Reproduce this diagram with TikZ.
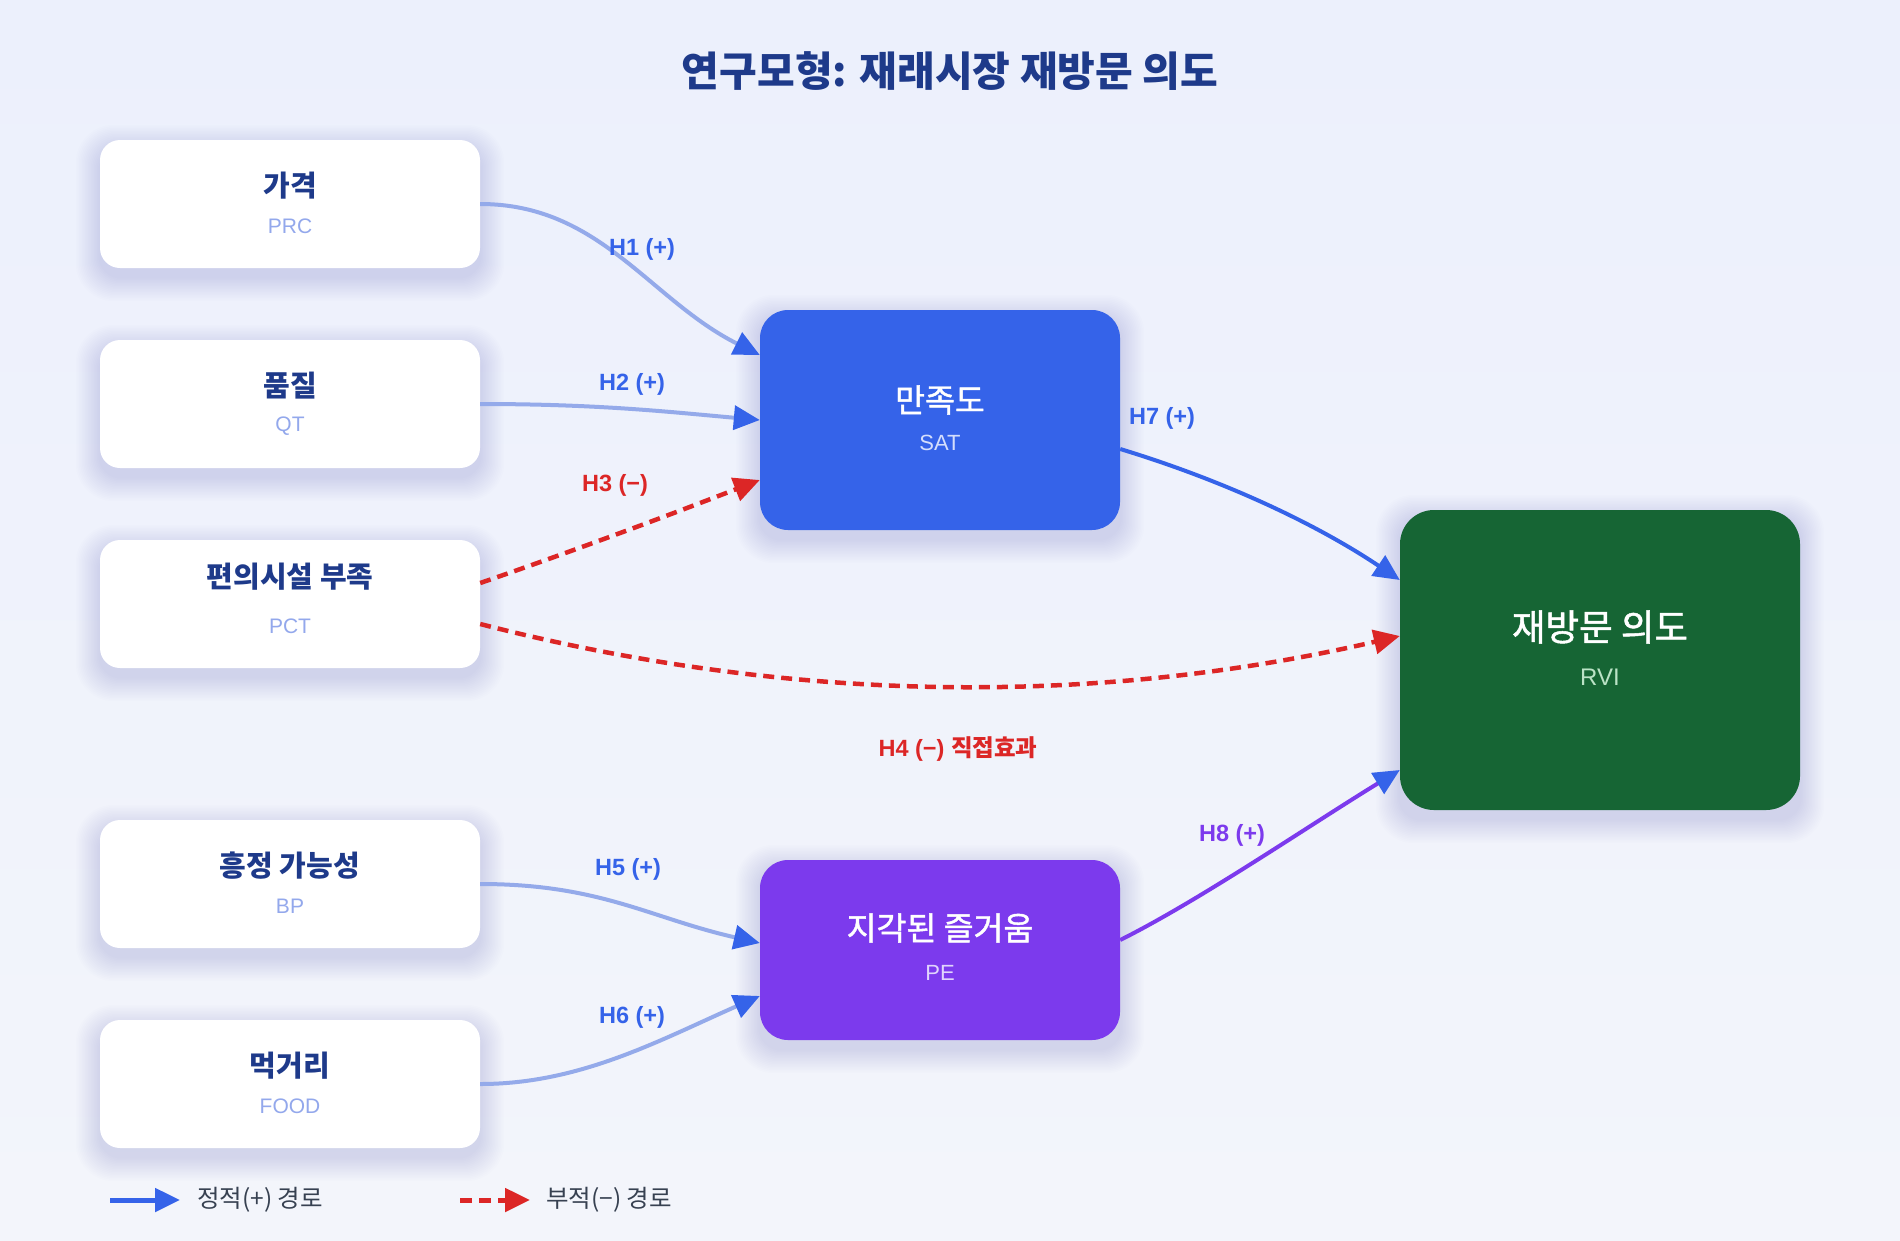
\documentclass[tikz,border=0pt]{standalone}
\usepackage{fontspec}
\setmainfont{Liberation Sans}
\newfontfamily\kr{Noto Sans CJK KR}
\newfontfamily\krm{Noto Sans CJK KR}[FakeBold=1.4]
\usetikzlibrary{arrows.meta,calc,backgrounds}
\definecolor{bgtop}{HTML}{ECF0FC}
\definecolor{bgbot}{HTML}{F3F5FB}
\definecolor{navy}{HTML}{1E3A8A}
\definecolor{shadowc}{HTML}{3A4F9F}
\definecolor{subblue}{HTML}{93A8EC}
\definecolor{satblue}{HTML}{3563E9}
\definecolor{rvigreen}{HTML}{166534}
\definecolor{pepurple}{HTML}{7C3AED}
\definecolor{lightline}{HTML}{94AAEA}
\definecolor{negred}{HTML}{DC2626}
\definecolor{legendgray}{HTML}{374151}
\definecolor{satsub}{HTML}{D4DEFC}
\definecolor{pesub}{HTML}{E0D4FC}
\definecolor{rvisub}{HTML}{BBE3C6}
\begin{document}
\begin{tikzpicture}[x=1pt,y=-1pt,
  leftbox/.style={rectangle, rounded corners=20pt, fill=white, minimum width=380pt, minimum height=128pt, inner sep=0pt},
  midbox/.style={rectangle, rounded corners=28pt, minimum width=360pt, inner sep=0pt},
  lefttitle/.style={font=\kr\bfseries\fontsize{29}{34}\selectfont, text=navy, inner sep=0pt},
  leftsub/.style={font=\fontsize{21}{25}\selectfont, text=subblue, inner sep=0pt},
  midtitle/.style={font=\krm\fontsize{32.5}{38}\selectfont, text=white, inner sep=0pt},
  midsub/.style={font=\fontsize{22}{26}\selectfont, inner sep=0pt},
  hlabel/.style={font=\bfseries\fontsize{23.5}{28}\selectfont, inner sep=0pt},
  legendtxt/.style={font=\kr\fontsize{24.5}{29}\selectfont, text=legendgray, inner sep=0pt, anchor=west},
  postip/.style={-{Triangle[length=26pt,width=24pt,color=satblue]}},
  negtip/.style={-{Triangle[length=26pt,width=24pt,color=negred]}},
  posline/.style={draw=lightline, line width=4pt, postip},
  negline/.style={draw=negred, line width=4.5pt, dash pattern=on 11pt off 7pt, negtip},
  shadelayer/.style={fill=shadowc, opacity=0.009},
]
\useasboundingbox (0,0) rectangle (1900,1240);

% title
\node[font=\kr\bfseries\fontsize{41}{48}\selectfont, text=navy, inner sep=0pt] (title) at (950,71) {연구모형: 재래시장 재방문 의도};

% left boxes
\node[leftbox] (prc) at (290,204) {};
\node[lefttitle] (prcT) at (290,186) {가격};
\node[leftsub] (prcS) at (290,226) {PRC};

\node[leftbox] (qt) at (290,404) {};
\node[lefttitle] (qtT) at (290,386) {품질};
\node[leftsub] (qtS) at (290,426.5) {QT};

\node[leftbox] (pct) at (290,604) {};
\node[lefttitle] (pctT) at (290,577) {편의시설 부족};
\node[leftsub] (pctS) at (290,626.5) {PCT};

\node[leftbox] (bp) at (290,884) {};
\node[lefttitle] (bpT) at (290,866) {흥정 가능성};
\node[leftsub] (bpS) at (290,906) {BP};

\node[leftbox] (food) at (290,1084) {};
\node[lefttitle] (foodT) at (290,1066) {먹거리};
\node[leftsub] (foodS) at (290,1106) {FOOD};

% middle boxes
\node[midbox, fill=satblue, minimum height=220pt] (sat) at (940,420) {};
\node[midtitle] (satT) at (940,400) {만족도};
\node[midsub, text=satsub] (satS) at (940,443) {SAT};

\node[midbox, fill=pepurple, minimum height=180pt] (pe) at (940,950) {};
\node[midtitle] (peT) at (940,928) {지각된 즐거움};
\node[midsub, text=pesub] (peS) at (940,973) {PE};

% outcome
\node[rectangle, rounded corners=34pt, fill=rvigreen, minimum width=400pt, minimum height=300pt, inner sep=0pt] (rvi) at (1600,660) {};
\node[font=\krm\fontsize{36.5}{42}\selectfont, text=white, inner sep=0pt] (rviT) at (1600,627) {재방문 의도};
\node[font=\fontsize{24}{28}\selectfont, text=rvisub, inner sep=0pt] (rviS) at (1600,677) {RVI};

% background and soft shadows
\begin{pgfonlayer}{background}
\fill[top color=bgtop, bottom color=bgbot] (0,0) rectangle (1900,1240);
\foreach \n in {prc,qt,pct,bp,food,sat,pe,rvi}{
  \foreach \i in {1,...,16}{
    \fill[shadelayer, rounded corners=22pt+\i pt]
      ([xshift=-1.5*\i pt, yshift=-9pt-1.5*\i pt]\n.south west) rectangle
      ([xshift=1.5*\i pt, yshift=-9pt+1.5*\i pt]\n.north east);
  }
}
\end{pgfonlayer}

% connectors
\draw[posline] (prc.east) .. controls +(120,0) and +(-110,-55) .. ([yshift=65pt]sat.west);
\draw[posline] (qt.east) .. controls +(120,0) and +(-90,-8) .. (sat.west);
\draw[negline] ([yshift=21pt]pct.east) .. controls +(93,-32) and +(-93,36) .. ([yshift=-60pt]sat.west);
\draw[negline] ([yshift=-20pt]pct.east) .. controls +(307,79) and +(-307,71) .. ([yshift=24pt]rvi.west);
\draw[posline] (bp.east) .. controls +(120,0) and +(-110,-25) .. ([yshift=7pt]pe.west);
\draw[posline] (food.east) .. controls +(100,0) and +(-100,44) .. ([yshift=-46pt]pe.west);
\draw[draw=satblue, line width=4pt, postip] ([yshift=-29pt]sat.east) .. controls +(102,31) and +(-85,-57) .. ([yshift=80pt]rvi.west);
\draw[draw=pepurple, line width=4pt, postip] ([yshift=10pt]pe.east) .. controls +(80,-40) and +(-90,55) .. ([yshift=-110pt]rvi.west);

% connector labels
\node[hlabel, text=satblue] (h1) at (642,249) {H1 (+)};
\node[hlabel, text=satblue] (h2) at (632,384) {H2 (+)};
\node[hlabel, text=negred] (h3) at (615,485) {H3 (−)};
\node[hlabel, text=negred] (h4) at (958,749) {H4 (−) {\kr 직접효과}};
\node[hlabel, text=satblue] (h5) at (628,869) {H5 (+)};
\node[hlabel, text=satblue] (h6) at (632,1017) {H6 (+)};
\node[hlabel, text=satblue] (h7) at (1162,418) {H7 (+)};
\node[hlabel, text=pepurple] (h8) at (1232,835) {H8 (+)};

% legend
\coordinate (lgA1) at (110,1200);
\coordinate (lgA2) at (180,1200);
\draw[draw=satblue, line width=5pt, -{Triangle[length=25pt,width=23pt,color=satblue]}] (lgA1) -- (lgA2);
\node[legendtxt] (lgAt) at (197,1200) {정적(+) 경로};
\coordinate (lgB1) at (460,1200);
\coordinate (lgB2) at (530,1200);
\draw[draw=negred, line width=5pt, dash pattern=on 12pt off 7pt, -{Triangle[length=25pt,width=23pt,color=negred]}] (lgB1) -- (lgB2);
\node[legendtxt] (lgBt) at (546,1200) {부적(−) 경로};
\end{tikzpicture}
\end{document}
